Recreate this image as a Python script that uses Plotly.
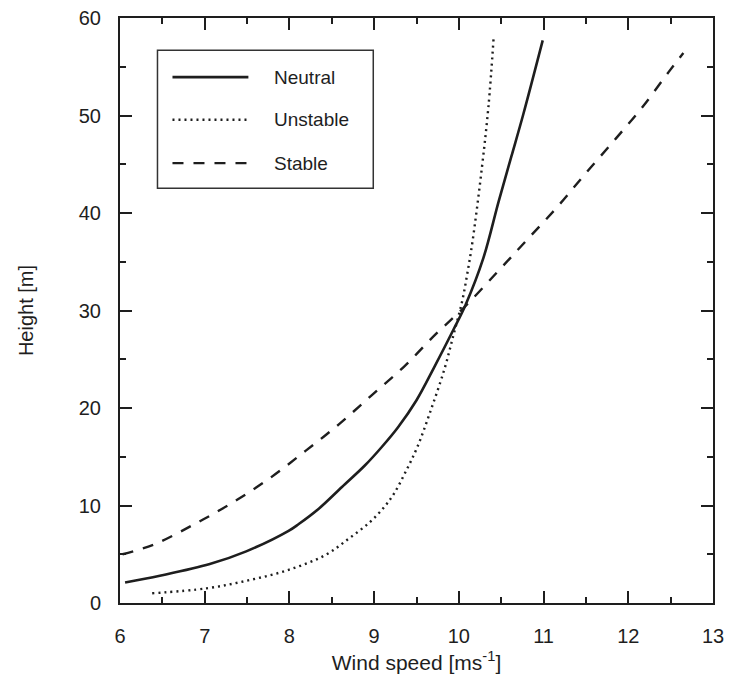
import plotly.graph_objects as go

# ---- data ----
neutral_speed = [6.06, 6.47, 7.06, 7.49, 7.99, 8.11, 8.35, 8.62, 8.89, 9.09, 9.28, 9.50, 9.71, 9.94, 10.08, 10.29, 10.47, 10.62, 10.76, 10.99]
neutral_height = [2.1, 2.8, 4.0, 5.3, 7.4, 8.1, 9.7, 11.9, 14.1, 16.0, 18.0, 20.8, 24.2, 28.1, 30.6, 35.4, 41.2, 45.8, 50.1, 57.7]

unstable_speed = [6.38, 7.02, 7.53, 7.99, 8.42, 8.70, 8.95, 9.125, 9.24, 9.38, 9.51, 9.67, 9.83, 9.94, 10.04, 10.10, 10.16, 10.27, 10.35, 10.41]
unstable_height = [1.0, 1.5, 2.35, 3.4, 4.9, 6.6, 8.3, 9.9, 11.3, 13.6, 16.0, 19.8, 24.0, 27.6, 31.0, 33.8, 37.0, 44.5, 51.0, 57.9]

stable_speed = [6.03, 6.40, 6.86, 7.31, 7.76, 8.19, 8.58, 8.97, 9.36, 9.73, 10.06, 10.46, 10.81, 11.17, 11.50, 11.85, 12.17, 12.48, 12.65]
stable_height = [5.0, 6.0, 8.0, 10.2, 12.75, 15.6, 18.3, 21.3, 24.3, 27.6, 30.3, 34.0, 37.3, 40.7, 44.1, 47.6, 50.9, 54.5, 56.4]

series_names = ["Neutral", "Unstable", "Stable"]
x_ticks = [6, 7, 8, 9, 10, 11, 12, 13]
y_ticks = [0, 10, 20, 30, 40, 50, 60]

INK = "#1e1e1e"
FONT = "Liberation Sans, Arial"
styles = [
    dict(width=2.6, dash="solid"),
    dict(width=2.4, dash="2px,4px"),
    dict(width=2.4, dash="11px,10px"),
]
data = [(neutral_speed, neutral_height), (unstable_speed, unstable_height), (stable_speed, stable_height)]

fig = go.Figure()
for name, (xs, ys), st in zip(series_names, data, styles):
    fig.add_trace(go.Scatter(x=xs, y=ys, mode="lines", name=name,
                             line=dict(color=INK, shape="spline", smoothing=1.0, **st),
                             showlegend=False))

# custom legend box (to match long line samples)
fig.add_shape(type="rect", xref="paper", yref="paper", x0=0.0632, x1=0.4271, y0=0.709, y1=0.945,
              line=dict(color="#333", width=1.5), fillcolor="white", layer="below")
rows = [0.899, 0.826, 0.752]
for name, st, yr in zip(series_names, styles, rows):
    fig.add_shape(type="line", xref="paper", yref="paper", x0=0.0885, x1=0.2165, y0=yr, y1=yr,
                  line=dict(color=INK, width=st["width"], dash=st["dash"]))
    fig.add_annotation(xref="paper", yref="paper", x=0.257, y=yr, text=name, showarrow=False,
                       xanchor="left", yanchor="middle",
                       font=dict(family=FONT, size=19, color=INK))

axis_common = dict(showline=True, linecolor=INK, linewidth=2, mirror="ticks",
                   ticks="inside", ticklen=12, tickwidth=2, tickcolor=INK,
                   showgrid=False, zeroline=False, automargin=False,
                   ticklabeloverflow="allow",
                   tickfont=dict(family=FONT, size=20, color=INK))

fig.update_xaxes(range=[6, 13], tickvals=x_ticks, ticktext=[str(v) for v in x_ticks],
                 minor=dict(ticks="inside", dtick=0.5, ticklen=6, tickwidth=2, tickcolor=INK),
                 ticklabelstandoff=14,
                 title=dict(text="Wind speed [ms<sup>-1</sup>]", standoff=9,
                            font=dict(family=FONT, size=21, color=INK)),
                 **axis_common)
fig.update_yaxes(range=[0, 60], tickvals=y_ticks, ticktext=[str(v) for v in y_ticks],
                 minor=dict(ticks="inside", dtick=5, ticklen=6, tickwidth=2, tickcolor=INK),
                 ticklabelstandoff=13,
                 title=dict(text="Height [m]", standoff=40,
                            font=dict(family=FONT, size=20, color=INK)),
                 **axis_common)

# page body has an 8px margin: figure sized to fit the window without scrollbars
fig.update_layout(width=716, height=671, margin=dict(l=111.5, r=11, t=10, b=76),
                  plot_bgcolor="white", paper_bgcolor="white", showlegend=False)

fig.write_html("out.html")
